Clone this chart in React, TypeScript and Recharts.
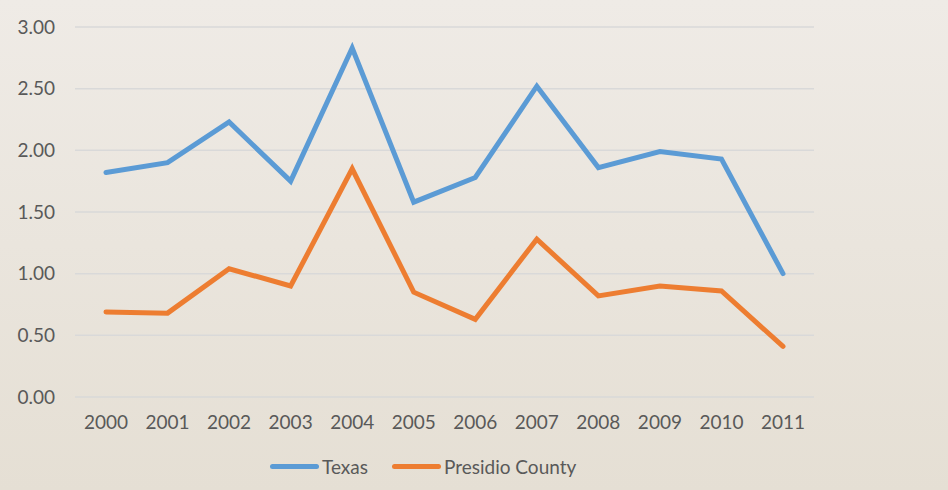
import { LineChart, Line, XAxis, YAxis, CartesianGrid } from "recharts";

const years = ["2000", "2001", "2002", "2003", "2004", "2005", "2006", "2007", "2008", "2009", "2010", "2011"];
const texas = [1.82, 1.9, 2.23, 1.75, 2.83, 1.58, 1.78, 2.52, 1.86, 1.99, 1.93, 1.0];
const presidio = [0.69, 0.68, 1.04, 0.9, 1.85, 0.85, 0.63, 1.28, 0.82, 0.9, 0.86, 0.41];
const yTicks = [0, 0.5, 1, 1.5, 2, 2.5, 3];

const series = [
    { key: "texas", name: "Texas", color: "#5b9bd5" },
    { key: "presidio", name: "Presidio County", color: "#ed7d31" },
];

const data = years.map((year, i) => ({ year, texas: texas[i], presidio: presidio[i] }));

const font = "Lato, 'Open Sans', sans-serif";
const tick = { fontSize: 19, fill: "#595959", fontFamily: font };

export default function App() {
    return (
        <div
            style={{
                position: "fixed",
                top: 0,
                left: 0,
                width: 948,
                height: 490,
                background: "linear-gradient(180deg, #efebe6 0%, #e5dfd4 100%)",
                fontFamily: font,
            }}
        >
            <LineChart width={948} height={490} data={data} margin={{ top: 27, right: 134, left: 0, bottom: 53 }}>
                <CartesianGrid vertical={false} stroke="#d9d9d9" strokeWidth={1.5} />
                <XAxis
                    dataKey="year"
                    axisLine={false}
                    tickLine={false}
                    tickSize={0}
                    tickMargin={19}
                    height={40}
                    tick={tick}
                    interval={0}
                    padding={{ left: 31, right: 31 }}
                />
                <YAxis
                    domain={[0, 3]}
                    ticks={yTicks}
                    axisLine={false}
                    tickLine={false}
                    tickSize={0}
                    tickMargin={20}
                    width={75}
                    tick={tick}
                    tickFormatter={(v: number) => v.toFixed(2)}
                />
                {series.map((s) => (
                    <Line
                        key={s.key}
                        dataKey={s.key}
                        name={s.name}
                        type="linear"
                        stroke={s.color}
                        strokeWidth={5}
                        strokeLinecap="round"
                        dot={false}
                        isAnimationActive={false}
                    />
                ))}
            </LineChart>
            <div
                style={{
                    position: "absolute",
                    top: 455,
                    left: 270,
                    display: "flex",
                    gap: 24,
                    fontSize: 19,
                    color: "#595959",
                }}
            >
                {series.map((s) => (
                    <div key={s.key} style={{ display: "flex", alignItems: "center" }}>
                        <span
                            style={{
                                display: "inline-block",
                                width: 49,
                                height: 5,
                                borderRadius: 3,
                                background: s.color,
                                marginRight: 3,
                            }}
                        />
                        <span>{s.name}</span>
                    </div>
                ))}
            </div>
        </div>
    );
}
